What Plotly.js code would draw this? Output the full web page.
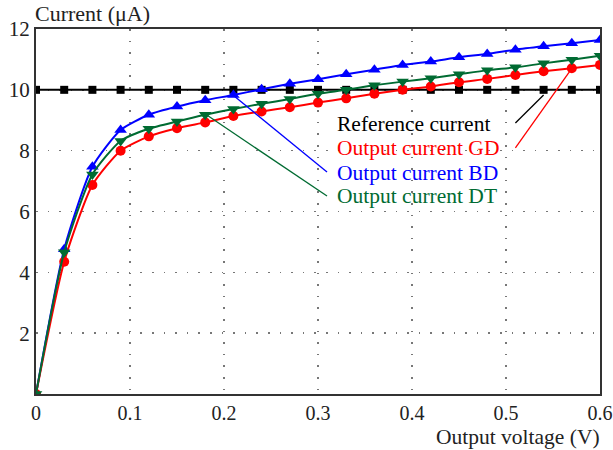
<!DOCTYPE html>
<html>
<head>
<meta charset="utf-8">
<script src="https://cdn.plot.ly/plotly-3.0.1.min.js"></script>
<style>html,body{margin:0;padding:0;background:#fff;}#chart{width:613px;height:450px;}</style>
</head>
<body>
<div id="chart"></div>
<script>
const voltage = [0, 0.03, 0.06, 0.09, 0.12, 0.15, 0.18, 0.21, 0.24, 0.27, 0.30, 0.33, 0.36, 0.39, 0.42, 0.45, 0.48, 0.51, 0.54, 0.57, 0.60];
const referenceCurrent = [10, 10, 10, 10, 10, 10, 10, 10, 10, 10, 10, 10, 10, 10, 10, 10, 10, 10, 10, 10, 10];
const currentGD = [0, 4.35, 6.87, 8.0, 8.47, 8.74, 8.93, 9.14, 9.29, 9.43, 9.58, 9.72, 9.87, 10.0, 10.11, 10.25, 10.36, 10.49, 10.61, 10.71, 10.82];
const currentBD = [0, 4.76, 7.47, 8.68, 9.18, 9.45, 9.66, 9.83, 10.02, 10.2, 10.35, 10.51, 10.66, 10.82, 10.93, 11.07, 11.18, 11.32, 11.43, 11.53, 11.64];
const currentDT = [0, 4.66, 7.22, 8.32, 8.72, 8.96, 9.18, 9.37, 9.54, 9.7, 9.87, 10.0, 10.15, 10.27, 10.38, 10.51, 10.64, 10.74, 10.87, 10.99, 11.12];
const xTicks = [0, 0.1, 0.2, 0.3, 0.4, 0.5, 0.6];
const yTicks = [2, 4, 6, 8, 10, 12];
const seriesNames = ["Reference current", "Output current GD", "Output current BD", "Output current DT"];

const font = "'Liberation Serif', 'Times New Roman', serif";
const cBlack = "#000000", cRed = "#ff0000", cBlue = "#0000ff", cGreen = "#006b32";

const traces = [
  {x: voltage, y: referenceCurrent, name: seriesNames[0], mode: "lines+markers",
   line: {color: cBlack, width: 2}, marker: {symbol: "square", size: 8, color: cBlack}},
  {x: voltage, y: currentBD, name: seriesNames[2], mode: "lines+markers",
   line: {color: cBlue, width: 2, shape: "spline", smoothing: 0.6}, marker: {symbol: "triangle-up", size: 11, color: cBlue}},
  {x: voltage, y: currentGD, name: seriesNames[1], mode: "lines+markers",
   line: {color: cRed, width: 2, shape: "spline", smoothing: 0.6}, marker: {symbol: "circle", size: 10, color: cRed}},
  {x: voltage, y: currentDT, name: seriesNames[3], mode: "lines+markers",
   line: {color: cGreen, width: 2, shape: "spline", smoothing: 0.6}, marker: {symbol: "triangle-down", size: 11, color: cGreen}}
];

const labelX = 0.3213;
const labelY = [8.88, 8.09, 7.26, 6.51];
const labelColors = [cBlack, cRed, cBlue, cGreen];
const annotations = seriesNames.map((t, i) => ({
  x: labelX, y: labelY[i], xref: "x", yref: "y", text: t, showarrow: false,
  xanchor: "left", yanchor: "middle", xshift: -3, font: {family: font, size: 21.5, color: labelColors[i]}
}));
annotations.push({xref: "paper", yref: "paper", x: 0, y: 1, xanchor: "left", yanchor: "bottom",
  xshift: -3, yshift: 1, text: "Current (μA)", showarrow: false, font: {family: font, size: 22, color: "#222"}});
annotations.push({xref: "paper", yref: "paper", x: 1, y: 0, xanchor: "right", yanchor: "top",
  xshift: 2, yshift: -29, text: "Output voltage (V)", showarrow: false, font: {family: font, size: 21.5, color: "#222"}});

const leader = (x0, y0, x1, y1, color) => ({type: "line", xref: "x", yref: "y", x0, y0, x1, y1,
  line: {color, width: 1.3}});
const shapes = [
  leader(0.510, 8.91, 0.540, 9.83, cBlack),
  leader(0.510, 8.09, 0.571, 10.75, cRed),
  leader(0.3096, 7.30, 0.2094, 9.83, cBlue),
  leader(0.3096, 6.51, 0.1817, 9.17, cGreen)
];

const layout = {
  width: 613, height: 450,
  margin: {l: 36, r: 13, t: 29, b: 56},
  paper_bgcolor: "#fff", plot_bgcolor: "#fff",
  showlegend: false,
  font: {family: font, size: 20, color: "#222"},
  xaxis: {range: [0, 0.6], tickvals: xTicks, ticktext: xTicks.map(String), ticks: "",
    showgrid: true, gridcolor: "#777", gridwidth: 1.6, griddash: "1.6px,10px",
    showline: true, linecolor: "#333", linewidth: 2, mirror: true, zeroline: false,
    tickfont: {family: font, size: 20, color: "#222"}},
  yaxis: {range: [0, 12], tickvals: yTicks, ticktext: yTicks.map(String), ticks: "",
    showgrid: true, gridcolor: "#777", gridwidth: 1.6, griddash: "1.6px,10px",
    showline: true, linecolor: "#333", linewidth: 2, mirror: true, zeroline: false,
    tickfont: {family: font, size: 21, color: "#222"}},
  annotations, shapes
};

Plotly.newPlot("chart", traces, layout, {displayModeBar: false, staticPlot: true});
</script>
</body>
</html>
